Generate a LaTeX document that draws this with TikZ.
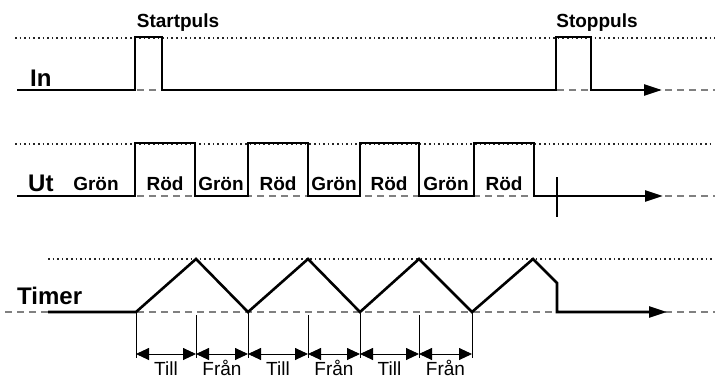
\documentclass[tikz,border=0pt]{standalone}
\usepackage{fontspec}
\setmainfont{Liberation Sans}
\usetikzlibrary{arrows.meta}
\begin{document}
\begin{tikzpicture}[x=1pt,y=-1pt,
  signal/.style={line width=2.6pt,line join=miter},
  sigarrow/.style={signal,-{Triangle[length=18pt,width=11pt]}},
  levelline/.style={line width=1.1pt,dash pattern=on 1.6pt off 3pt,black!85},
  zeroline/.style={line width=1.1pt,dash pattern=on 7pt off 5pt,black!50},
  tickline/.style={line width=0.9pt},
  dimarrow/.style={line width=0.9pt,{Triangle[length=13pt,width=12pt]}-{Triangle[length=13pt,width=12pt]}},
  bigtxt/.style={font=\fontsize{24}{28}\selectfont\bfseries,inner sep=0pt,anchor=base west},
  pulstxt/.style={font=\fontsize{19}{22}\selectfont\bfseries,inner sep=0pt,anchor=base},
  sigtxt/.style={font=\fontsize{19}{22}\selectfont\bfseries,inner sep=0pt,anchor=base},
  dimtxt/.style={font=\fontsize{19}{22}\selectfont,inner sep=0pt,anchor=base}]
  \useasboundingbox (0,0) rectangle (715,378);

  % In
  \draw[zeroline] (17,90) -- (715,90);
  \draw[levelline] (15,38) -- (715,38);
  \draw[sigarrow] (17,90) -- (135,90) |- (162,37) |- (556,90) |- (591,37) |- (662,90);
  \node[bigtxt] (in) at (30,86) {In};
  \node[pulstxt] (start) at (178,27) {Startpuls};
  \node[pulstxt] (stop) at (597,27) {Stoppuls};

  % Ut
  \draw[zeroline] (17,196) -- (715,196);
  \draw[levelline] (15,144) -- (712,144);
  \draw[sigarrow] (17,196) -- (135,196) |- (195,143) |- (248,196) |- (308,143)
    |- (360,196) |- (419,143) |- (474,196) |- (534,143) |- (663,196);
  \draw[line width=1.3pt] (557,177) -- (557,217);
  \node[bigtxt] (ut) at (28,191) {Ut};
  \foreach \x/\t [count=\i] in {96/Grön,165/Röd,221/Grön,278/Röd,334/Grön,389/Röd,446/Grön,504/Röd}
    \node[sigtxt] (ut\i) at (\x,190) {\t};

  % Timer
  \draw[zeroline] (5,312) -- (715,312);
  \draw[levelline] (48,259) -- (715,259);
  \draw[sigarrow] (48,312) -- (136,312) -- (196,259) -- (248,312) -- (308,259) -- (360,312)
    -- (419,259) -- (472,312) -- (533,259) -- (557,283) -- (557,312) -- (667,312);
  \node[bigtxt] (timer) at (17,304) {Timer};

  % Till / Från
  \foreach \x/\y [count=\i] in {136/312,196/315,248/312,308/315,360/312,419/315,472/312} {
    \draw[tickline] (\x,\y) -- (\x,358);
    \coordinate (t\i) at (\x,354);
  }
  \foreach \i/\j/\t in {1/2/Till,2/3/Från,3/4/Till,4/5/Från,5/6/Till,6/7/Från}
    \draw[dimarrow] (t\i) -- (t\j) node[dimtxt,midway,yshift=-21pt] (lab\i) {\t};
\end{tikzpicture}
\end{document}
